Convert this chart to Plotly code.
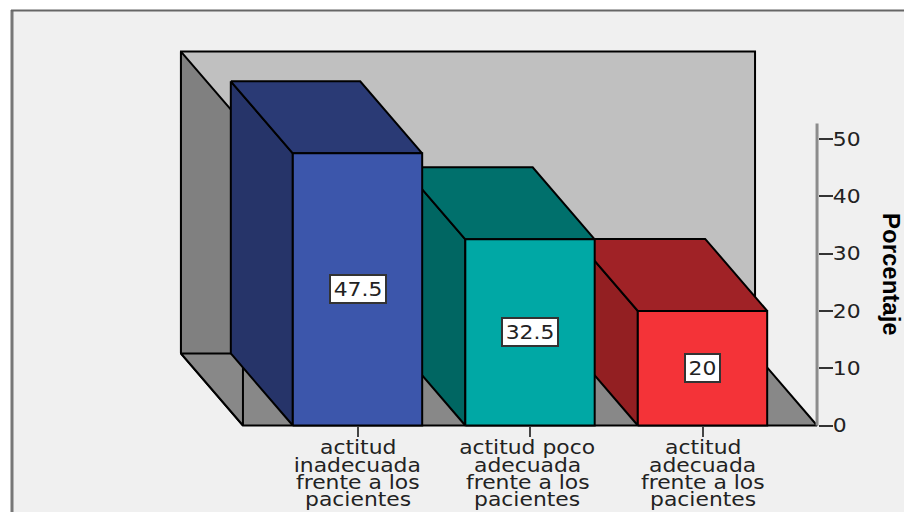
import plotly.graph_objects as go

# Chart data
categories = [
    ["actitud", "inadecuada", "frente a los", "pacientes"],
    ["actitud poco", "adecuada", "frente a los", "pacientes"],
    ["actitud", "adecuada", "frente a los", "pacientes"],
]
percentages = [47.5, 32.5, 20]
value_labels = ["47.5", "32.5", "20"]
y_ticks = [0, 10, 20, 30, 40, 50]

# Face colours per bar: front, top, side
front_colors = ["#3c56ab", "#00a8a5", "#f43338"]
top_colors = ["#2a3a75", "#00706c", "#a02226"]
side_colors = ["#263469", "#006662", "#931f22"]

W, H = 904, 512
X_STEP = 172.5   # pixels per category
Y_STEP = 5.73    # pixels per percentage point
X0_PX, Y0_PX = 357.5, 425.5
DEPTH_X = 62 / X_STEP
DEPTH_Y = 72 / Y_STEP
HALF = 0.375
AXIS_MAX = 52.7
WALL_L, WALL_R = 0.336, 3.664

fig = go.Figure()


def face(xs, ys, color, width=2):
    fig.add_trace(go.Scatter(
        x=xs + xs[:1], y=ys + ys[:1], mode="lines", fill="toself",
        fillcolor=color, line=dict(color="#000000", width=width),
        hoverinfo="skip", showlegend=False,
    ))


def edge(xs, ys, color="#000000", width=2):
    fig.add_trace(go.Scatter(
        x=xs, y=ys, mode="lines", line=dict(color=color, width=width),
        hoverinfo="skip", showlegend=False,
    ))


# Back wall, left wall and floor of the 3D box
face([WALL_L - DEPTH_X, WALL_R - DEPTH_X, WALL_R - DEPTH_X, WALL_L - DEPTH_X],
     [DEPTH_Y, DEPTH_Y, AXIS_MAX + DEPTH_Y, AXIS_MAX + DEPTH_Y], "#c0c0c0")
face([WALL_L - DEPTH_X, WALL_L, WALL_L, WALL_L - DEPTH_X],
     [AXIS_MAX + DEPTH_Y, AXIS_MAX, 0, DEPTH_Y], "#808080")
face([WALL_L - DEPTH_X, WALL_R - DEPTH_X, WALL_R, WALL_L],
     [DEPTH_Y, DEPTH_Y, 0, 0], "#888888")
# Near edge of the left wall, visible through the floor
edge([WALL_L, WALL_L], [0, AXIS_MAX])

# Bars are painted from back-most (right) to front-most (left)
for i in reversed(range(len(percentages))):
    c = i + 1
    v = percentages[i]
    l, r = c - HALF, c + HALF
    face([l - DEPTH_X, l, l, l - DEPTH_X], [v + DEPTH_Y, v, 0, DEPTH_Y], side_colors[i])
    face([l - DEPTH_X, r - DEPTH_X, r, l], [v + DEPTH_Y, v + DEPTH_Y, v, v], top_colors[i])
    face([l, r, r, l], [0, 0, v, v], front_colors[i])

# Vertical axis line
edge([WALL_R, WALL_R], [0, AXIS_MAX], color="#8c8c8c", width=3)

annotations = []
# Value boxes in the middle of each bar
box_widths = [50, 50, 29]
for i, v in enumerate(percentages):
    annotations.append(dict(
        x=i + 1, y=v / 2, xref="x", yref="y", text=value_labels[i], showarrow=False,
        width=box_widths[i], align="center",
        font=dict(family="DejaVu Sans", size=19, color="#222222"),
        bgcolor="#ffffff", bordercolor="#333333", borderwidth=2, borderpad=2,
    ))

# Category labels, one annotation per text line
line_px = [447, 465, 482, 499]
label_shift = [0, -3, 0]
for i, lines in enumerate(categories):
    for ypx, text in zip(line_px, lines):
        annotations.append(dict(
            x=i + 1, y=1 - ypx / H, xref="x", yref="paper", text=text, showarrow=False,
            xanchor="center", yanchor="middle", xshift=label_shift[i],
            font=dict(family="DejaVu Sans", size=19, color="#222222"),
        ))

annotations.append(dict(
    x=892 / W, y=1 - 274 / H, xref="paper", yref="paper", text="<b>Porcentaje</b>",
    showarrow=False, textangle=90, xanchor="center", yanchor="middle",
    font=dict(family="Liberation Sans", size=24, color="#000000"),
))

fig.update_layout(
    width=W, height=H, margin=dict(l=0, r=0, t=0, b=0, pad=0),
    paper_bgcolor="#ffffff", plot_bgcolor="rgba(0,0,0,0)",
    showlegend=False, annotations=annotations,
    shapes=[
        # Panel background with its darker top and left edges
        dict(type="rect", xref="paper", yref="paper", layer="below",
             x0=12 / W, x1=1.01, y0=-0.01, y1=1 - 10 / H,
             fillcolor="#f0f0f0", line=dict(width=0)),
        dict(type="line", xref="paper", yref="paper", layer="below",
             x0=12 / W, x1=12 / W, y0=0, y1=1 - 10 / H,
             line=dict(color="#777777", width=3)),
        dict(type="line", xref="paper", yref="paper", layer="below",
             x0=11 / W, x1=1, y0=1 - 10.5 / H, y1=1 - 10.5 / H,
             line=dict(color="#666666", width=2)),
    ],
    xaxis=dict(
        range=[1 - X0_PX / X_STEP, 1 + (W - X0_PX) / X_STEP],
        anchor="free", position=(H - Y0_PX) / H,
        tickmode="array", tickvals=[1, 2, 3], ticks="outside", ticklen=10,
        tickwidth=2, tickcolor="#444444", showticklabels=False,
        showgrid=False, zeroline=False, showline=False, fixedrange=True,
    ),
    yaxis=dict(
        range=[-(H - Y0_PX) / Y_STEP, Y0_PX / Y_STEP],
        anchor="free", position=818 / W, side="right",
        tickmode="array", tickvals=y_ticks, ticks="outside", ticklen=14,
        tickwidth=2, tickcolor="#333333", ticklabelstandoff=-4,
        tickfont=dict(family="DejaVu Sans", size=19, color="#222222"),
        showgrid=False, zeroline=False, showline=False, fixedrange=True,
    ),
)

# The labels use a horizontally expanded letterform
widen_text = """
var gd = document.getElementById('{plot_id}');
gd.querySelectorAll('.annotation-text, .ytick text').forEach(function (t) {
  if (t.querySelector('tspan')) { return; }
  t.setAttribute('textLength', t.getComputedTextLength() * 1.15);
  t.setAttribute('lengthAdjust', 'spacingAndGlyphs');
});
"""

fig.write_html("out.html", config=dict(displayModeBar=False), post_script=widen_text)
